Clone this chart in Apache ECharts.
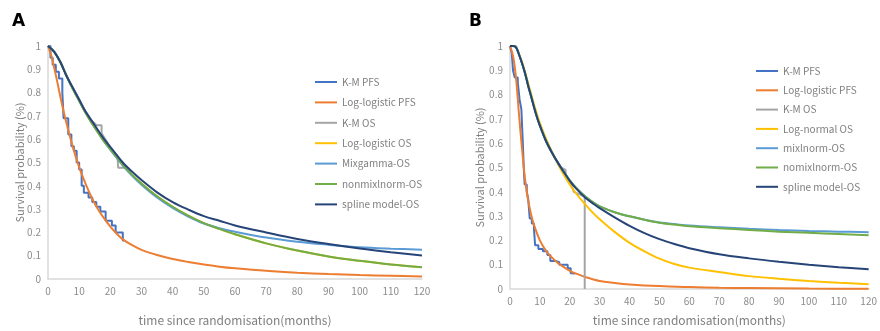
<!DOCTYPE html>
<html>
<head>
<meta charset="utf-8">
<script src="https://cdn.jsdelivr.net/npm/echarts@6/dist/echarts.min.js"></script>
<style>
  html, body { margin: 0; padding: 0; background: #fff; }
  #wrap { position: relative; width: 880px; height: 331px; }
  #chartA { position: absolute; left: 0; top: 0; width: 440px; height: 331px; }
  #chartB { position: absolute; left: 440px; top: 0; width: 440px; height: 331px; }
</style>
</head>
<body>
<div id="wrap">
  <div id="chartA"></div>
  <div id="chartB"></div>
</div>
<script>
// ---------- panel A ----------
const aTime = [0, 2, 4, 6, 8, 10, 12, 15, 18, 21, 24, 27, 30, 35, 40, 45, 50, 55, 60, 70, 80, 90, 100, 110, 120];
const aSpline = [1, 0.975, 0.93, 0.87, 0.82, 0.77, 0.72, 0.66, 0.6, 0.55, 0.5, 0.46, 0.425, 0.372, 0.33, 0.298, 0.27, 0.25, 0.23, 0.2, 0.172, 0.15, 0.131, 0.115, 0.101];
const aNonmix = [1, 0.975, 0.93, 0.87, 0.815, 0.765, 0.715, 0.65, 0.59, 0.54, 0.49, 0.447, 0.41, 0.355, 0.31, 0.272, 0.24, 0.215, 0.192, 0.153, 0.122, 0.097, 0.078, 0.062, 0.05];
const aMixgamma = [1, 0.975, 0.93, 0.87, 0.815, 0.765, 0.715, 0.65, 0.59, 0.537, 0.487, 0.443, 0.405, 0.35, 0.305, 0.268, 0.238, 0.218, 0.203, 0.178, 0.16, 0.147, 0.136, 0.13, 0.126];
const aLogLogOS = [1, 0.975, 0.93, 0.87, 0.815, 0.765, 0.715, 0.65, 0.59, 0.54, 0.49, 0.447, 0.41, 0.355, 0.31, 0.272, 0.24, 0.215, 0.192, 0.153, 0.122, 0.097, 0.078, 0.062, 0.05];

const aPfsTime = [0, 1, 2, 3, 4, 5, 6, 8, 10, 12, 14, 16, 18, 20, 22, 24, 27, 30, 35, 40, 45, 50, 55, 60, 70, 80, 90, 100, 110, 120];
const aLogLogPFS = [1, 0.96, 0.905, 0.845, 0.78, 0.72, 0.665, 0.565, 0.48, 0.41, 0.35, 0.3, 0.26, 0.225, 0.195, 0.17, 0.145, 0.125, 0.103, 0.086, 0.073, 0.062, 0.053, 0.046, 0.035, 0.027, 0.021, 0.017, 0.014, 0.011];

// Kaplan-Meier curves [time, survival]
const aKmPFS = [[0, 1], [0.8, 0.95], [1.5, 0.92], [2.5, 0.89], [3.5, 0.86], [4.6, 0.8], [5.0, 0.69], [6.5, 0.62], [7.5, 0.57], [8.3, 0.55], [9.2, 0.5], [10.0, 0.47], [10.8, 0.4], [11.5, 0.37], [13.0, 0.35], [14.2, 0.33], [15.5, 0.31], [16.8, 0.29], [18.5, 0.25], [20.5, 0.23], [21.7, 0.2], [24.0, 0.165], [24.6, 0.165]];
const aKmOS = [[0, 1], [2, 0.975], [4, 0.93], [6, 0.87], [8, 0.82], [10, 0.77], [12, 0.72], [14, 0.68], [15.6, 0.66], [17.2, 0.66], [17.2, 0.625], [20, 0.565], [22.3, 0.525], [22.5, 0.478], [24.6, 0.478]];

// ---------- panel B ----------
const bTime = [0, 1, 2, 3, 4, 5, 6, 7, 8, 9, 10, 12, 14, 16, 18, 20, 22, 25, 28, 30, 35, 40, 45, 50, 55, 60, 70, 80, 90, 100, 110, 120];
const bSpline = [1, 1, 0.995, 0.965, 0.93, 0.889, 0.84, 0.795, 0.75, 0.708, 0.672, 0.61, 0.562, 0.52, 0.482, 0.445, 0.415, 0.378, 0.35, 0.333, 0.295, 0.26, 0.23, 0.205, 0.185, 0.168, 0.143, 0.126, 0.112, 0.1, 0.09, 0.081];
const bNomix = [1, 1, 0.995, 0.965, 0.93, 0.889, 0.84, 0.795, 0.75, 0.708, 0.672, 0.61, 0.562, 0.52, 0.482, 0.447, 0.418, 0.383, 0.355, 0.34, 0.316, 0.299, 0.285, 0.273, 0.265, 0.258, 0.25, 0.243, 0.236, 0.231, 0.226, 0.221];
const bMixlnorm = [1, 1, 0.995, 0.965, 0.93, 0.889, 0.84, 0.795, 0.75, 0.708, 0.672, 0.61, 0.562, 0.52, 0.482, 0.447, 0.418, 0.383, 0.355, 0.34, 0.316, 0.299, 0.285, 0.274, 0.267, 0.261, 0.254, 0.248, 0.243, 0.239, 0.236, 0.234];
const bLogNormOS = [1, 1, 0.995, 0.968, 0.935, 0.895, 0.85, 0.805, 0.76, 0.72, 0.683, 0.62, 0.565, 0.515, 0.47, 0.43, 0.395, 0.35, 0.31, 0.287, 0.235, 0.19, 0.155, 0.125, 0.103, 0.088, 0.07, 0.053, 0.042, 0.033, 0.026, 0.02];

const bPfsTime = [0, 1, 2, 3, 4, 5, 6, 7, 8, 10, 12, 14, 16, 18, 20, 22, 25, 30, 35, 40, 50, 60, 70, 80, 100, 120];
const bLogLogPFS = [1, 0.96, 0.87, 0.72, 0.58, 0.455, 0.37, 0.31, 0.265, 0.2, 0.158, 0.13, 0.107, 0.09, 0.075, 0.064, 0.05, 0.033, 0.025, 0.019, 0.012, 0.008, 0.005, 0.004, 0.002, 0.001];

const bKmPFS = [[0, 1], [0.6, 0.97], [1.0, 0.9], [1.6, 0.87], [2.6, 0.85], [3.2, 0.78], [3.8, 0.74], [4.3, 0.6], [4.6, 0.5], [4.9, 0.43], [5.6, 0.4], [6.1, 0.37], [6.6, 0.29], [7.3, 0.27], [8.0, 0.25], [8.4, 0.18], [9.5, 0.165], [11.0, 0.155], [12.5, 0.14], [13.5, 0.115], [15.5, 0.11], [16.5, 0.1], [19.3, 0.085], [20.3, 0.065], [21.5, 0.06]];
const bKmOS = [[0, 1], [2, 1], [3, 0.968], [5, 0.892], [6, 0.845], [7, 0.8], [9, 0.71], [12, 0.612], [15, 0.54], [17, 0.5], [18.6, 0.49], [18.6, 0.47], [20.5, 0.43], [21.3, 0.4], [25, 0.38], [25, 0]];

const yTicks = 0.1;
const xTicks = 10;

const COLORS = {
  kmPfs: '#4472C4', llPfs: '#ED7D31', kmOs: '#A5A5A5', yellow: '#FFC000',
  lightBlue: '#5B9BD5', green: '#70AD47', navy: '#264478'
};
const FONT = '"Noto Sans CJK SC", "Noto Sans", sans-serif';

function zip(t, s) {
  return t.map((v, i) => [v, s[i]]);
}

function curve(name, color, data, extra) {
  return Object.assign({
    name: name,
    type: 'line',
    data: data,
    showSymbol: false,
    symbol: 'none',
    smooth: 0.35,
    color: color,
    lineStyle: { color: color, width: 2 },
    emphasis: { disabled: true },
    animation: false
  }, extra || {});
}

function baseOption(letter, titleLeft, grid, legendLeft, legendTop, legendGap, xNameGap, yNameGap) {
  return {
    animation: false,
    textStyle: { fontFamily: FONT },
    title: {
      text: letter, left: titleLeft, top: 8,
      textStyle: { fontSize: 17, fontWeight: 'bold', color: '#000', fontFamily: 'DejaVu Sans' }
    },
    grid: grid,
    legend: {
      orient: 'vertical', left: legendLeft, top: legendTop, padding: 0,
      itemWidth: 22, itemHeight: 2, itemGap: legendGap, icon: 'rect',
      textStyle: { fontSize: 10, color: '#808080', lineHeight: 14, fontFamily: FONT }
    },
    xAxis: {
      type: 'value', min: 0, max: 120, interval: xTicks,
      name: 'time since randomisation(months)', nameLocation: 'middle', nameGap: xNameGap,
      nameMoveOverlap: false,
      nameTextStyle: { fontSize: 12, color: '#7f7f7f' },
      axisLine: { show: true, lineStyle: { color: '#d9d9d9', width: 1.5 } },
      axisTick: { show: false },
      splitLine: { show: false },
      axisLabel: { fontSize: 10, color: '#8c8c8c', margin: 7 }
    },
    yAxis: {
      type: 'value', min: 0, max: 1, interval: yTicks,
      name: 'Survival probability (%)', nameLocation: 'middle', nameGap: yNameGap,
      nameMoveOverlap: false,
      nameTextStyle: { fontSize: 11, color: '#7f7f7f' },
      axisLine: { show: true, lineStyle: { color: '#d9d9d9', width: 1.5 } },
      axisTick: { show: false },
      splitLine: { show: false },
      axisLabel: { fontSize: 10, color: '#8c8c8c', margin: 7 }
    }
  };
}

const chartA = echarts.init(document.getElementById('chartA'), null, { renderer: 'canvas' });
const optA = baseOption('A', 7, { left: 48, right: 18, top: 46, bottom: 45 }, 315, 75, 6.4, 35, 23);
optA.series = [
  curve('K-M PFS', COLORS.kmPfs, aKmPFS, { smooth: false, step: 'end' }),
  curve('Log-logistic PFS', COLORS.llPfs, zip(aPfsTime, aLogLogPFS)),
  curve('K-M OS', COLORS.kmOs, aKmOS, { smooth: false }),
  curve('Log-logistic OS', COLORS.yellow, zip(aTime, aLogLogOS)),
  curve('Mixgamma-OS', COLORS.lightBlue, zip(aTime, aMixgamma)),
  curve('nonmixlnorm-OS', COLORS.green, zip(aTime, aNonmix)),
  curve('spline model-OS', COLORS.navy, zip(aTime, aSpline))
];
chartA.setOption(optA);

const chartB = echarts.init(document.getElementById('chartB'), null, { renderer: 'canvas' });
const optB = baseOption('B', 24, { left: 70, right: 5, top: 46, bottom: 39 }, 316, 64, 5.3, 25, 25);
optB.series = [
  curve('K-M PFS', COLORS.kmPfs, bKmPFS, { smooth: false, step: 'end' }),
  curve('Log-logistic PFS', COLORS.llPfs, zip(bPfsTime, bLogLogPFS)),
  curve('K-M OS', COLORS.kmOs, bKmOS, { smooth: false }),
  curve('Log-normal OS', COLORS.yellow, zip(bTime, bLogNormOS)),
  curve('mixlnorm-OS', COLORS.lightBlue, zip(bTime, bMixlnorm)),
  curve('nomixlnorm-OS', COLORS.green, zip(bTime, bNomix)),
  curve('spline model-OS', COLORS.navy, zip(bTime, bSpline))
];
chartB.setOption(optB);
</script>
</body>
</html>
